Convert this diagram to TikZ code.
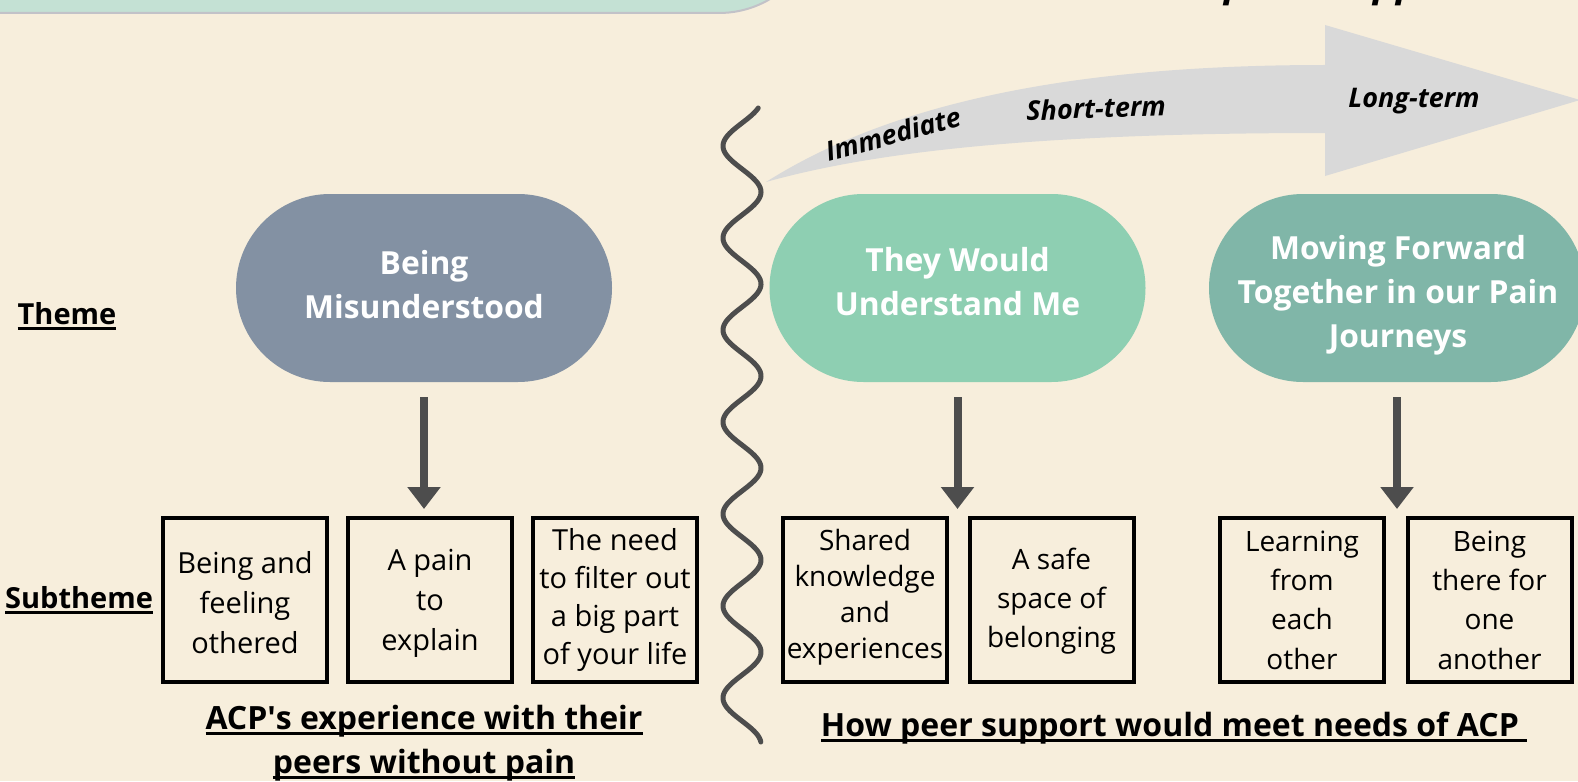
\documentclass[tikz,border=0pt]{standalone}
\usepackage{fontspec}
\setmainfont{Open Sans}
\usetikzlibrary{shapes.misc,arrows.meta}
\definecolor{bgc}{HTML}{F7EEDC}
\definecolor{topbox}{HTML}{C4E1D4}
\definecolor{topedge}{HTML}{C2C2C8}
\definecolor{themeA}{HTML}{8391A3}
\definecolor{themeB}{HTML}{8ECFB2}
\definecolor{themeC}{HTML}{80B6A8}
\definecolor{bandgray}{HTML}{D9D9D9}
\definecolor{darkgray}{HTML}{4D4D4D}
\newcommand{\myul}[1]{\setbox0\hbox{#1}\rlap{\rule[-2.6pt]{\wd0}{1.2pt}}\box0}
\begin{document}
\begin{tikzpicture}[x=0.5pt,y=-0.5pt,
 theme/.style={shape=rounded rectangle, minimum width=188pt, minimum height=94pt, inner sep=0pt, align=center, text=white, font=\bfseries\fontsize{15.9}{22}\selectfont},
 subbox/.style={draw=black, line width=2pt, minimum width=82pt, minimum height=82pt, inner sep=0pt, align=center, font=\fontsize{14.5}{20}\selectfont},
 subboxr/.style={subbox, font=\fontsize{14}{19.6}\selectfont},
 rowlab/.style={font=\bfseries\fontsize{14.5}{18}\selectfont, inner sep=0pt},
 caption/.style={font=\bfseries\fontsize{16}{22}\selectfont, align=center, inner sep=0pt},
 timelab/.style={font=\bfseries\itshape\fontsize{13.5}{16}\selectfont, inner sep=0pt},
 downarrow/.style={draw=darkgray, line width=4pt, -{Triangle[width=16pt,length=11pt]}},
 wave/.style={draw=darkgray, line width=2.5pt, line cap=round},
]
\fill[bgc] (0,0) rectangle (1578,781);
\useasboundingbox (0,0) rectangle (1578,781);
\clip (0,0) rectangle (1578,781);

% top-left panel (cut off)
\draw[fill=topbox, draw=topedge, line width=1pt, rounded corners=50pt] (-100,-300) rectangle (819,13);
% cut-off title
\node[anchor=base west, font=\bfseries\itshape\fontsize{19.5}{22}\selectfont, inner sep=0pt] (ttl) at (1224,-3) {peer\hspace{12pt}support};

% timeline band arrow
\fill[bandgray] (766,182) .. controls (880,110) and (1050,65) .. (1325,65) -- (1325,25) -- (1580,100) -- (1325,176) -- (1325,133) .. controls (1050,133) and (880,150) .. (766,182) -- cycle;
\node[timelab, rotate=15] (imm) at (893,134) {Immediate};
\node[timelab, rotate=2] (st) at (1096,108) {Short-term};
\node[timelab] (lt) at (1414,101) {Long-term};

% wavy divider
\draw[wave] plot[variable=\t, domain=108:742, samples=400, smooth] ({742+19*cos(3.91304*(\t-100))}, \t);

% themes
\node[theme, fill=themeA] (thA) at (424,288) {};
\node[theme, fill=themeB] (thB) at (957.5,288) {};
\node[theme, fill=themeC] (thC) at (1397,288) {};
\node[theme, shape=rectangle, minimum width=0pt, minimum height=0pt] (tA) at (424,285) {Being\\Misunderstood};
\node[theme, shape=rectangle, minimum width=0pt, minimum height=0pt] (tB) at (957.5,282) {They Would\\Understand Me};
\node[theme, shape=rectangle, minimum width=0pt, minimum height=0pt] (tC) at (1398,295) {Moving Forward\\Together in our Pain\\Journeys};

% subthemes
\node[subbox] (s1) at (245,600) {};
\node[subbox] (s2) at (430,600) {};
\node[subbox] (s3) at (615,600) {};
\node[subbox] (s4) at (865,600) {};
\node[subbox] (s5) at (1051.5,600) {};
\node[subbox] (s6) at (1302,600) {};
\node[subbox] (s7) at (1489.5,600) {};
\node[align=center, inner sep=0pt, font=\fontsize{14.5}{20}\selectfont] (l1) at (s1.center) [yshift=-1.5pt] {Being and\\feeling\\othered};
\node[align=center, inner sep=0pt, font=\fontsize{14.5}{20}\selectfont] (l2) at (s2.center) [yshift=-1.5pt] {A pain\\to\\explain};
\node[align=center, inner sep=0pt, font=\fontsize{14.5}{19}\selectfont] (l3) at (s3.center) {The need\\to filter out\\a big part\\of your life};
\node[align=center, inner sep=0pt, font=\fontsize{14}{18}\selectfont] (l4) at (s4.center) [yshift=1.5pt] {Shared\\knowledge\\and\\experiences};
\node[align=center, inner sep=0pt, font=\fontsize{14}{19.5}\selectfont] (l5) at (s5.center) [yshift=-0.5pt] {A safe\\space of\\belonging};
\node[align=center, inner sep=0pt, font=\fontsize{14}{19.7}\selectfont] (l6) at (s6.center) {Learning\\from\\each\\other};
\node[align=center, inner sep=0pt, font=\fontsize{14}{19.7}\selectfont] (l7) at (s7.center) {Being\\there for\\one\\another};

% arrows
\coordinate (a1) at (thA.south |- s2.north);
\coordinate (a2) at (thB.south |- s4.north);
\coordinate (a3) at (thC.south |- s6.north);
\draw[downarrow] ([yshift=-7.5pt]thA.south) -- ([yshift=3.5pt]a1);
\draw[downarrow] ([yshift=-7.5pt]thB.south) -- ([yshift=3.5pt]a2);
\draw[downarrow] ([yshift=-7.5pt]thC.south) -- ([yshift=3.5pt]a3);

% row labels
\node[rowlab] (rTheme) at (67,316) {\myul{Theme}};
\node[rowlab] (rSub) at (79,600) {\myul{Subtheme}};

% captions
\node[caption] (capL) at (424,743) {\myul{ACP\textquotesingle s experience with their}\\\myul{peers without pain}};
\node[caption] (capR) at (1174,728) {\myul{How peer support would meet needs of ACP\ }};
\end{tikzpicture}
\end{document}
